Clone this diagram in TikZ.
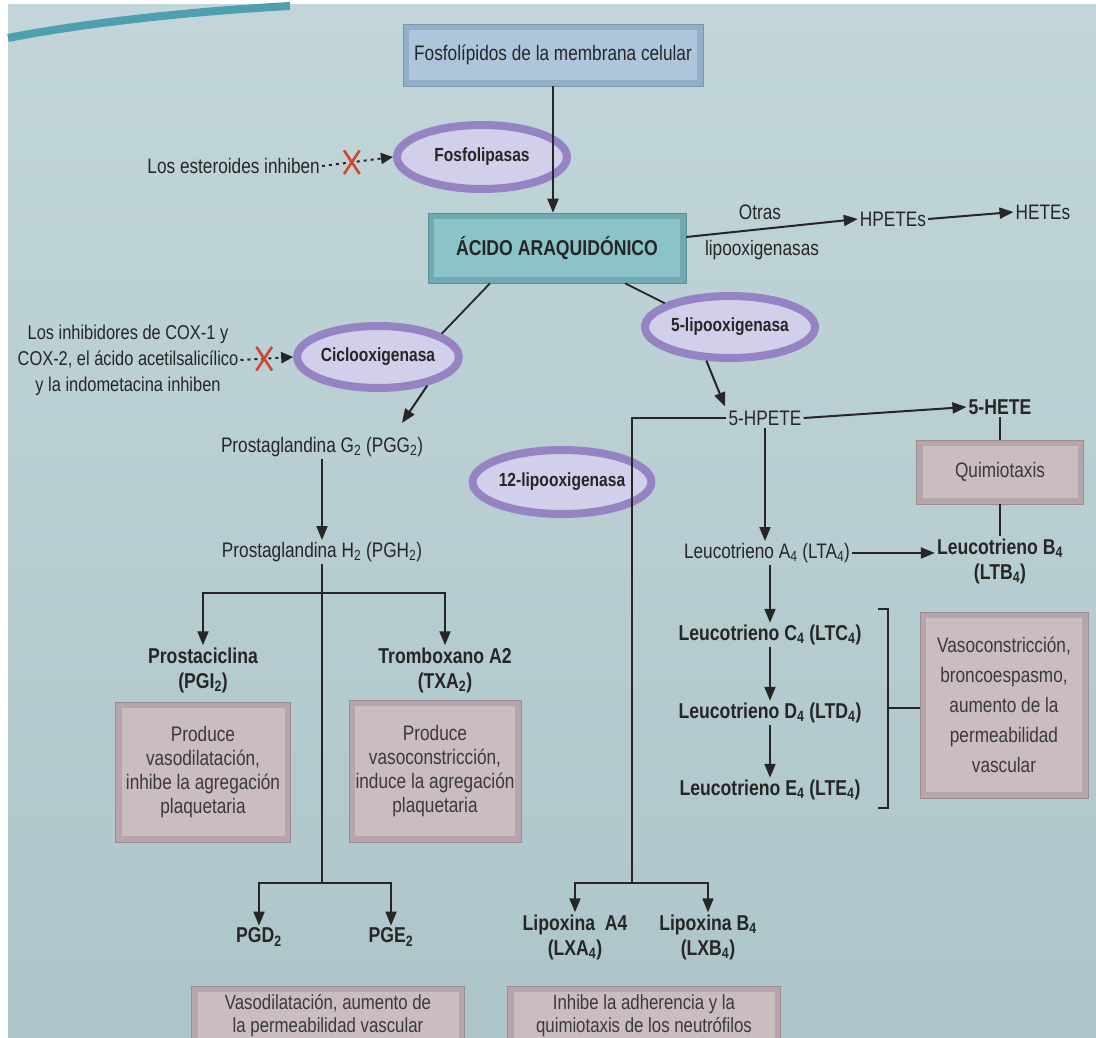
\documentclass[tikz,border=0pt]{standalone}
\usepackage{fontspec}
\setmainfont{Liberation Sans}[FakeStretch=0.82]
\usetikzlibrary{arrows.meta,shapes.geometric,shapes.misc}
\definecolor{bgtop}{HTML}{C2D6D9}
\definecolor{bgbot}{HTML}{ADC5C9}
\definecolor{band}{HTML}{4E9FAF}
\definecolor{topout}{HTML}{93AFC8}
\definecolor{topin}{HTML}{ADC6DC}
\definecolor{acout}{HTML}{6EAAB0}
\definecolor{acin}{HTML}{8BC4C8}
\definecolor{effout}{HTML}{B7A4AC}
\definecolor{effin}{HTML}{CBBCC2}
\definecolor{ellring}{HTML}{9583C4}
\definecolor{ellfill}{HTML}{D2CFEA}
\definecolor{ink}{HTML}{262626}
\definecolor{inktwo}{HTML}{3A3A3A}
\definecolor{xred}{HTML}{D2452F}
\newcommand\txtR{\fontsize{21}{24}\selectfont}
\newcommand\txtB{\fontsize{21.5}{25}\selectfont\bfseries}
\newcommand\txtE{\fontsize{19}{22}\selectfont\bfseries}
\newcommand\sbt[1]{\textsubscript{#1}}
\tikzset{
  bevel/.style 2 args={rectangle, fill=#1, draw=#1!85!black, line width=0.6pt,
    inner sep=0pt, align=center,
    path picture={\fill[#2] ([shift={(6pt,-6pt)}]path picture bounding box.north west)
      rectangle ([shift={(-6pt,6pt)}]path picture bounding box.south east);}},
  topbox/.style={bevel={topout}{topin}, font=\txtR, text=ink},
  acbox/.style={bevel={acout}{acin}, font=\fontsize{21.5}{25}\selectfont\bfseries, text=ink},
  effbox/.style={bevel={effout}{effin}, font=\txtR, text=inktwo},
  ell/.style={ellipse, draw=ellring, line width=8pt, fill=ellfill, inner sep=0pt,
    text=ink, font=\txtE},
  lbl/.style={font=\txtR, text=ink, inner sep=2pt},
  blbl/.style={font=\txtB, text=ink, inner sep=2pt, align=center},
  conn/.style={draw=ink, line width=1.8pt},
  arr/.style={draw=ink, line width=2pt, -{Triangle[length=14pt,width=11pt]}},
  inh/.style={draw=ink, line width=2pt, dash pattern=on 3pt off 4pt,
    -{Triangle[length=12pt,width=11pt]}},
  xmark/.style={cross out, draw=xred, solid, line width=2.6pt, minimum width=13pt,
    minimum height=21pt, inner sep=0pt}
}
\begin{document}
\begin{tikzpicture}[x=1pt,y=-1pt]
\clip (0,0) rectangle (1096,1038);
\fill[white] (0,0) rectangle (1096,1038);
\shade[top color=bgtop,bottom color=bgbot] (8,5) rectangle (1096,1038);
\draw[line width=8pt, band] (8,38) .. controls (80,24) and (180,12) .. (290,6);

% top
\node[topbox, minimum width=300pt, minimum height=62pt] (fosmem) at (553,55) {Fosfolípidos de la membrana celular};
\node[ell, minimum width=170pt, minimum height=64pt] (fosfo) at (482,157) {Fosfolipasas};
\node[lbl, anchor=east] (ster) at (322,166) {Los esteroides inhiben};
\node[acbox, minimum width=258pt, minimum height=70pt] (acido) at (557,248) {ÁCIDO ARAQUIDÓNICO};
\draw[arr] (fosmem.south) -- (fosmem.south |- acido.north);
\draw[inh] (ster.east) -- node[xmark, pos=0.42]{} (fosfo.west);

\node[lbl] (otras) at (760,212) {Otras};
\node[lbl] (lipos) at (762,250) {lipooxigenasas};
\node[lbl] (hpetes) at (893,219) {HPETEs};
\node[lbl] (hetes) at (1043,212) {HETEs};
\draw[arr] ([yshift=11pt]acido.east) -- (hpetes.west);
\draw[arr] (hpetes.east) -- (hetes.west);

% enzymes
\node[ell, minimum width=158pt, minimum height=62pt] (cox) at (378,357) {Ciclooxigenasa};
\node[ell, minimum width=170pt, minimum height=62pt] (lox5) at (730,327) {5-lipooxigenasa};
\draw[conn] ([xshift=-67pt]acido.south) -- (cox.20);
\draw[conn] ([xshift=68pt]acido.south) -- (lox5.160);
\node[lbl, align=center, font={\fontsize{20}{26}\selectfont}] (inhib) at (128,360) {Los inhibidores de COX-1 y\\COX-2, el ácido acetilsalicílico\\y la indometacina inhiben};
\draw[inh] (inhib.east) -- node[xmark, pos=0.45]{} (cox.west);

% prostaglandin branch
\node[lbl] (pgg) at (322,447) {Prostaglandina G\sbt{2} (PGG\sbt{2})};
\draw[arr] (cox.330) -- ([xshift=80pt,yshift=12pt]pgg.north);
\node[lbl] (pgh) at (322,552) {Prostaglandina H\sbt{2} (PGH\sbt{2})};
\draw[arr] (pgg.south) -- (pgh.north);
\coordinate (j1) at (322,593);
\coordinate (j2) at (322,883);
\draw[conn] (pgh.south) -- (j2);
\node[blbl] (pgi) at (203,670) {Prostaciclina\\(PGI\sbt{2})};
\node[blbl] (txa) at (445,670) {Tromboxano A2\\(TXA\sbt{2})};
\draw[arr] (j1) -| (pgi.north);
\draw[arr] (j1) -| (txa.north);
\node[effbox, minimum width=175pt, minimum height=140pt, font={\fontsize{21}{24}\selectfont}] (pgibox) at (203,772) {Produce\\vasodilatación,\\inhibe la agregación\\plaquetaria};
\node[effbox, minimum width=172pt, minimum height=142pt, font={\fontsize{21}{24}\selectfont}] (txabox) at (435,771) {Produce\\vasoconstricción,\\induce la agregación\\plaquetaria};
\node[blbl] (pgd) at (259,937) {PGD\sbt{2}};
\node[blbl] (pge) at (391,937) {PGE\sbt{2}};
\draw[arr] (j2) -| (pgd.north);
\draw[arr] (j2) -| (pge.north);
\node[effbox, minimum width=273pt, minimum height=58pt, anchor=north, font={\fontsize{20.5}{23}\selectfont}] (vdbox) at (328,986) {Vasodilatación, aumento de\\la permeabilidad vascular};

% lipoxygenase branch
\node[lbl] (hpete) at (765,418) {5-HPETE};
\draw[arr] (lox5.235) -- ([xshift=-40pt,yshift=2pt]hpete.north);
\node[ell, minimum width=160pt, minimum height=64pt] (lox12) at (562,482) {12-lipooxigenasa};
\coordinate (j3) at (632,883);
\draw[conn] (hpete.west) -| (j3);
\node[blbl] (lxa) at (575,937) {Lipoxina\ \ A4\\(LXA\sbt{4})};
\node[blbl] (lxb) at (708,937) {Lipoxina B\sbt{4}\\(LXB\sbt{4})};
\draw[arr] (j3) -| (lxa.north);
\draw[arr] (j3) -| (lxb.north);
\node[effbox, minimum width=273pt, minimum height=58pt, anchor=north, font={\fontsize{20.5}{23}\selectfont}] (lxbox) at (644,986) {Inhibe la adherencia y la\\quimiotaxis de los neutrófilos};

\node[blbl] (hete5) at (1000,407) {5-HETE};
\draw[arr] (hpete.east) -- (hete5.west);
\node[effbox, minimum width=167pt, minimum height=64pt] (quim) at (1000,472) {Quimiotaxis};
\draw[conn] (hete5.south) -- (quim.north);
\node[blbl] (ltb) at (1000,561) {Leucotrieno B\sbt{4}\\(LTB\sbt{4})};
\draw[conn] (quim.south) -- (ltb.north);
\node[lbl] (lta) at (767,553) {Leucotrieno A\sbt{4} (LTA\sbt{4})};
\draw[arr] (hpete.south) -- (hpete.south |- lta.north);
\draw[arr] (lta.east) -- (lta.east -| ltb.west);
\node[blbl] (ltc) at (770,635) {Leucotrieno C\sbt{4} (LTC\sbt{4})};
\node[blbl] (ltd) at (770,713) {Leucotrieno D\sbt{4} (LTD\sbt{4})};
\node[blbl] (lte) at (770,790) {Leucotrieno E\sbt{4} (LTE\sbt{4})};
\draw[arr] (lta.south -| ltc.north) -- (ltc.north);
\draw[arr] (ltc.south) -- (ltd.north);
\draw[arr] (ltd.south) -- (lte.north);
\node[effbox, minimum width=168pt, minimum height=186pt, font={\fontsize{21}{30}\selectfont}] (vaso) at (1004,705) {Vasoconstricción,\\broncoespasmo,\\aumento de la\\permeabilidad\\vascular};
\coordinate (bt) at (878,609);
\coordinate (bb) at (878,808);
\coordinate (bm) at (888,708);
\draw[conn] (bt) -- (bt -| bm) -- (bb -| bm) -- (bb);
\draw[conn] (bm) -- (vaso.west |- bm);
\end{tikzpicture}
\end{document}
